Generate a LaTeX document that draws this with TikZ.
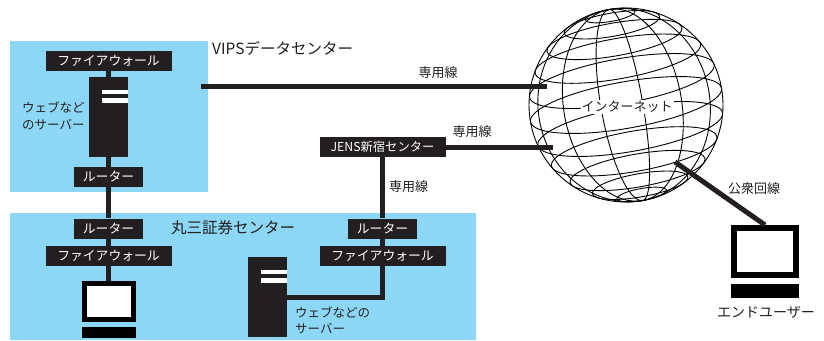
\documentclass[tikz,border=0pt]{standalone}
\usepackage{fontspec}
\setmainfont{Noto Sans CJK JP}
\usepackage{tikz}
\usetikzlibrary{positioning}
\definecolor{ink}{RGB}{35,31,32}
\definecolor{sky}{RGB}{141,215,246}
\tikzset{
  zone/.style={fill=sky},
  tag/.style={fill=ink,text=white,inner sep=0pt,minimum height=20pt,
              font=\fontsize{12.8}{14}\selectfont},
  fwtag/.style={tag,minimum width=126pt},
  rttag/.style={tag,minimum width=69pt},
  wire/.style={draw=ink,line width=5pt},
  txt/.style={text=ink,inner sep=0pt,font=\fontsize{13}{14}\selectfont},
  title/.style={txt,font=\fontsize{15.5}{17}\selectfont},
  srv/.style={fill=ink,inner sep=0pt,minimum width=39pt,minimum height=80pt,
              path picture={
                \fill[white] ([xshift=-26pt,yshift=-13pt]path picture bounding box.north east)
                  rectangle ++(26pt,-4pt);
                \fill[white] ([xshift=-26pt,yshift=-21pt]path picture bounding box.north east)
                  rectangle ++(26pt,-4.5pt);}},
  mon/.style={draw=black,fill=white,inner sep=0pt},
  kbd/.style={fill=black,inner sep=0pt},
  globe/.style={draw=black,line width=0.9pt},
}

\begin{document}
\begin{tikzpicture}[x=1pt,y=-1pt]
\useasboundingbox (0,0) rectangle (824,340);

% VIPS data centre
\fill[zone] (10,41) rectangle (208,192);
\node[title,anchor=west] (vipsname) at (212,48) {VIPSデータセンター};
\node[fwtag] (fw1) at (108.5,61) {ファイアウォール};
\node[srv] (srv1) at (108.5,117) {};
\node[txt,anchor=west,align=left,font=\fontsize{12.5}{17}\selectfont] (srv1txt)
  at (22,115.5) {ウェブなど\\のサーバー};
\node[rttag] (rt1) at (108.5,177) {ルーター};

% Marusan centre
\fill[zone] (10,213) rectangle (476,340);
\node[title,anchor=west] (mrzname) at (171,228) {丸三証券センター};
\node[rttag] (rt2) at (108.5,228.5) {ルーター};
\node[fwtag] (fw2) at (108.5,256) {ファイアウォール};
\node[mon,line width=5pt,minimum width=49pt,minimum height=36pt] (pc1) at (108.5,301.5) {};
\node[kbd,minimum width=54pt,minimum height=11pt,below=5pt of pc1] (kb1) {};
\node[srv] (srv2) at (267.5,297) {};
\node[txt,anchor=north west,align=left,font=\fontsize{12.5}{15.5}\selectfont] (srv2txt)
  at (295,307) {ウェブなどの\\サーバー};
\node[rttag] (rt3) at (382.5,228.5) {ルーター};
\node[fwtag] (fw3) at (382.5,256) {ファイアウォール};

% JENS Shinjuku
\node[fwtag,font=\fontsize{12.3}{14}\selectfont] (jens) at (382.5,147) {JENS新宿センター};

% internet globe
\node[circle,globe,minimum size=194pt,inner sep=0pt] (net) at (626,105) {};
\begin{scope}[shift={(626,105)},rotate=10,globe]
  \foreach \p in {-75,-60,...,75}
    \draw (0,{-97*0.97*sin(\p)}) ellipse ({97*cos(\p)} and {97*0.24*cos(\p)});
  \foreach \l in {-65,-40,-15,10,35,60}
    \draw plot[domain=-90:90,samples=40,variable=\t] ({97*cos(\t)*sin(\l)},{97*sin(\t)});
\end{scope}
\node[txt,fill=white,inner sep=1pt] (nettxt) at (627,107) {インターネット};

% end user
\node[mon,line width=6pt,minimum width=62pt,minimum height=47pt] (pc2) at (765,251.5) {};
\node[kbd,minimum width=68pt,minimum height=14pt,below=6pt of pc2] (kb2) {};
\node[txt,font=\fontsize{14}{15}\selectfont] (usertxt) at (766,312) {エンドユーザー};

% links
\coordinate (vipsout) at (201,86);
\coordinate (netW) at (547,86);
\coordinate (netSW) at (553,147);
\coordinate (netSE) at (675,162);
\draw[wire] (fw1) -- (srv1);
\draw[wire] (srv1) -- (rt1);
\draw[wire] (rt1) -- (rt2);
\draw[wire] (rt2) -- (fw2);
\draw[wire] (fw2) -- (pc1);
\draw[wire] (jens) -- (rt3);
\draw[wire] (rt3) -- (fw3);
\draw[wire] (fw3) |- (srv2);
\draw[wire] (vipsout) -- (netW);
\draw[wire] (jens) -- (netSW);
\draw[wire] (netSE) -- (pc2.north);

% line labels
\node[txt] (lease1) at (438,73) {専用線};
\node[txt] (lease2) at (472,132) {専用線};
\node[txt,anchor=west] (lease3) at (389,187) {専用線};
\node[txt] (pubtxt) at (754,189) {公衆回線};

\end{tikzpicture}
\end{document}
